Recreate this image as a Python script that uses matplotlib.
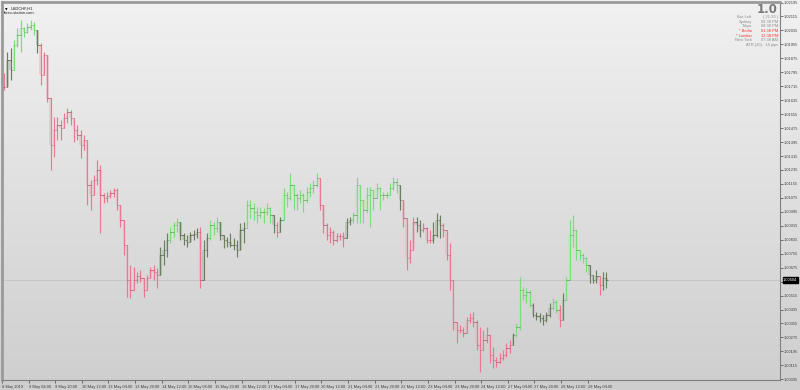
import numpy as np
import matplotlib
matplotlib.use("Agg")
import matplotlib.pyplot as plt
from matplotlib.colors import LinearSegmentedColormap

plt.rcParams['font.family'] = ['Liberation Sans', 'DejaVu Sans']

# USDCHF H2 bars, prices in points above 1.00000 (1 point = 0.00001)
highs = [1791, 1911, 1934, 1980, 2049, 2094, 2054, 2077, 2094, 2083, 2026, 1963, 1911, 1865, 1538, 1538,
         1538, 1521, 1561, 1590, 1579, 1504, 1493, 1464, 1435, 1395, 1177, 1206, 1292, 1263, 1103, 1109,
         1120, 1132, 1132, 1034, 862, 805, 690, 679, 650, 662, 604, 633, 679, 690, 673, 793,
         834, 874, 908, 937, 960, 931, 874, 862, 879, 891, 902, 908, 834, 874, 948, 937,
         965, 902, 862, 851, 874, 845, 834, 931, 937, 1063, 1063, 1046, 1023, 1023, 1017, 1046,
         1023, 948, 937, 965, 1132, 1109, 1218, 1149, 1103, 1120, 1103, 1137, 1160, 1177, 1218, 1149,
         1006, 931, 908, 891, 874, 874, 879, 960, 965, 994, 1195, 1120, 1023, 1137, 1137, 1103,
         1160, 1137, 1109, 1109, 1160, 1195, 1189, 1120, 1063, 960, 834, 965, 965, 948, 931, 908,
         891, 937, 988, 977, 931, 834, 816, 576, 358, 347, 335, 392, 415, 421, 375, 335,
         318, 335, 278, 220, 163, 186, 203, 243, 260, 301, 358, 622, 564, 559, 547, 472,
         421, 415, 404, 421, 472, 501, 490, 461, 530, 622, 948, 977, 816, 765, 759, 736,
         673, 622, 662, 622, 650, 650]
lows = [1693, 1739, 1751, 1808, 1940, 1911, 1997, 2020, 2037, 2008, 1905, 1722, 1791, 1624, 1235, 1309,
        1407, 1407, 1481, 1504, 1493, 1395, 1407, 1303, 1349, 1034, 1006, 1109, 1149, 874, 1046, 1051,
        1074, 1080, 1006, 908, 748, 507, 501, 564, 587, 593, 507, 547, 622, 604, 559, 679,
        690, 736, 816, 851, 879, 834, 805, 793, 822, 834, 845, 559, 662, 736, 834, 862,
        879, 834, 788, 793, 793, 776, 736, 776, 816, 908, 960, 948, 931, 960, 931, 977,
        931, 874, 851, 879, 988, 1023, 1063, 1006, 1006, 1046, 994, 1046, 1080, 1103, 1137, 1006,
        874, 834, 816, 805, 822, 834, 793, 862, 920, 931, 931, 931, 931, 988, 908, 1006,
        1080, 1006, 1063, 1074, 1103, 1120, 1103, 1006, 908, 662, 702, 851, 879, 851, 879, 816,
        816, 816, 851, 845, 851, 719, 547, 318, 243, 301, 278, 335, 358, 335, 203, 77,
        203, 243, 129, 100, 106, 129, 146, 163, 186, 243, 278, 318, 490, 472, 450, 392,
        375, 364, 347, 364, 392, 432, 415, 335, 375, 507, 604, 793, 719, 719, 702, 650,
        587, 587, 587, 519, 547, 559]
closes = [1710, 1865, 1808, 1951, 2008, 2049, 2026, 2054, 2066, 2037, 1951, 1779, 1894, 1647, 1378, 1464,
          1493, 1475, 1533, 1567, 1533, 1464, 1435, 1378, 1407, 1149, 1091, 1177, 1235, 1091, 1074, 1086,
          1103, 1120, 1034, 948, 805, 604, 547, 604, 627, 616, 547, 616, 662, 650, 633, 748,
          776, 834, 879, 920, 937, 862, 834, 822, 862, 868, 879, 604, 776, 845, 920, 902,
          937, 862, 834, 822, 805, 805, 776, 891, 902, 1034, 1017, 994, 977, 994, 994, 1017,
          977, 920, 879, 948, 1091, 1074, 1149, 1091, 1074, 1091, 1063, 1109, 1132, 1149, 1189, 1034,
          920, 862, 879, 834, 856, 856, 845, 937, 948, 977, 1149, 1063, 1006, 1091, 1120, 1074,
          1132, 1091, 1091, 1091, 1132, 1166, 1149, 1063, 960, 730, 776, 937, 920, 891, 902, 834,
          834, 862, 948, 920, 891, 748, 604, 364, 318, 318, 301, 375, 387, 364, 232, 203,
          260, 289, 175, 146, 134, 157, 175, 215, 232, 289, 335, 547, 519, 536, 461, 404,
          398, 387, 375, 404, 444, 478, 432, 375, 490, 604, 862, 891, 776, 748, 730, 690,
          633, 604, 627, 576, 616, 604]

# trend state of the bar-colour indicator: g = up, o = pause, p = down
trend_runs = [("p", 1), ("o", 2), ("g", 7), ("o", 1), ("p", 36), ("o", 3), ("g", 3), ("o", 6),
              ("p", 1), ("o", 2), ("g", 3), ("o", 8), ("g", 8), ("o", 1), ("p", 1), ("o", 1),
              ("g", 11), ("p", 8), ("o", 2), ("g", 14), ("o", 1), ("p", 4), ("o", 2), ("p", 3),
              ("o", 3), ("p", 21), ("o", 1), ("g", 5), ("o", 6), ("g", 2), ("p", 1), ("o", 1),
              ("g", 7), ("o", 3), ("p", 1), ("o", 2)]

time_labels = ["8 May 2019", "9 May 04:00", "9 May 20:00", "10 May 12:00", "13 May 04:00",
               "13 May 20:00", "14 May 12:00", "15 May 04:00", "15 May 20:00", "16 May 12:00",
               "17 May 04:00", "17 May 20:00", "20 May 12:00", "21 May 04:00", "21 May 20:00",
               "22 May 12:00", "23 May 04:00", "23 May 20:00", "24 May 12:00", "27 May 04:00",
               "27 May 20:00", "28 May 12:00", "29 May 04:00"]
bars_per_label = 8

session_names = ["Bar Left", "Sydney", "Tokyo", "* Berlin", "* London", "New York"]
session_times = ["( 21:33 )", "09:38 PM", "08:38 PM", "01:38 PM", "12:38 PM", "07:38 AM"]
session_open = [False, False, False, True, True, False]
spread = "1.0"
atr_text = "ATR (20):  14 pips"

# ---------
hi = 1 + np.array(highs) / 1e5
lo = 1 + np.array(lows) / 1e5
cl = 1 + np.array(closes) / 1e5
op = np.r_[cl[0], cl[:-1]]
hi = np.maximum(hi, np.maximum(op, cl))
lo = np.minimum(lo, np.minimum(op, cl))
x = np.arange(len(cl))
trend = "".join(k * n for k, n in trend_runs)

line_col = {'g': '#7ade7a', 'o': '#6b8060', 'p': '#ee7690'}
pale_col = {'g': '#b8eab8', 'o': '#aab4a2', 'p': '#ecb6c2'}
tick_col = {'g': '#4f9c4f', 'o': '#4a5842', 'p': '#b24c64'}

fs = 2.9  # tiny terminal font

fig = plt.figure(figsize=(8, 3.9), dpi=100)
bg = fig.add_axes([0, 0, 1, 1], zorder=-10)
bg.imshow(np.linspace(0, 1, 256)[:, None], aspect='auto', extent=[0, 1, 0, 1],
          cmap=LinearSegmentedColormap.from_list('bg', ['#f1f1f1', '#cecece']))
bg.axis('off')

ax = fig.add_axes([2 / 800, 10 / 390, 778 / 800, 378 / 390])
ax.set_facecolor('none')

ax.bar(x, np.abs(cl - op), bottom=np.minimum(op, cl), width=0.75,
       color=[pale_col[t] for t in trend], alpha=0.55, linewidth=0, zorder=2)
ax.vlines(x, lo, hi, colors=[line_col[t] for t in trend], linewidth=0.85, zorder=3)
ax.hlines(op, x - 0.4, x, colors=[tick_col[t] for t in trend], linewidth=0.5, zorder=4)
ax.hlines(cl, x, x + 0.4, colors=[tick_col[t] for t in trend], linewidth=0.5, zorder=4)

last = cl[-1]
ax.axhline(last, color='#c4c4c4', linewidth=0.6, zorder=1)

ax.set_xlim(-0.4, 233.2)
ax.set_ylim(1.00031, 1.02198)

# price scale; the label under the current-price box is hidden, as in the terminal
yt = 1.00035 + 0.0008 * np.arange(28)
ax.yaxis.tick_right()
ax.set_yticks(yt)
ax.set_yticklabels(['' if abs(v - last) < 0.0004 else '%.5f' % v for v in yt])
ax.tick_params(axis='y', length=2, width=0.5, pad=1.0, labelsize=fs, colors='#404040')

xt = np.arange(len(time_labels)) * bars_per_label - 0.6
ax.set_xticks(xt)
ax.set_xticklabels(time_labels)
for lab in ax.get_xticklabels():
    lab.set_horizontalalignment('left')
ax.tick_params(axis='x', length=2.5, width=0.5, pad=1.0, labelsize=fs, colors='#404040')

for side in ['left', 'top']:
    ax.spines[side].set_color('#9a9a9a')
    ax.spines[side].set_linewidth(2.0)
for side in ['right', 'bottom']:
    ax.spines[side].set_color('#808080')
    ax.spines[side].set_linewidth(0.8)

ax.text(1.004, last, '%.5f' % last, transform=ax.get_yaxis_transform(), fontsize=fs,
        color='white', va='center', ha='left',
        bbox=dict(boxstyle='square,pad=0.15', fc='black', ec='black'))

# header, top left
ax.text(0.004, 0.986, '\u25bc', transform=ax.transAxes, fontsize=2.4, va='top', ha='left',
        family='DejaVu Sans', color='black')
ax.text(0.011, 0.988, 'USDCHF,H1', transform=ax.transAxes, fontsize=fs, va='top', ha='left',
        color='#202020')
ax.text(0.003, 0.975, 'forex-station.com', transform=ax.transAxes, fontsize=fs, va='top',
        ha='left', color='#202020')

# session panel, top right
ax.text(0.9975, 0.998, spread, transform=ax.transAxes, fontsize=8.5, fontweight='bold',
        va='top', ha='right', color='#7a7a7a', family='DejaVu Sans')
for k, (nm, tm, red) in enumerate(zip(session_names, session_times, session_open)):
    yy = 0.960 - k * 0.0122
    c = '#ff2a2a' if red else '#8c8c8c'
    ax.text(0.9635, yy, nm, transform=ax.transAxes, fontsize=fs, va='center', ha='right', color=c)
    ax.text(0.9975, yy, tm, transform=ax.transAxes, fontsize=fs, va='center', ha='right', color=c)
ax.text(0.9975, 0.960 - 6 * 0.0122, atr_text, transform=ax.transAxes, fontsize=fs,
        va='center', ha='right', color='#8c8c8c')

fig.savefig('out.png', dpi=100)
